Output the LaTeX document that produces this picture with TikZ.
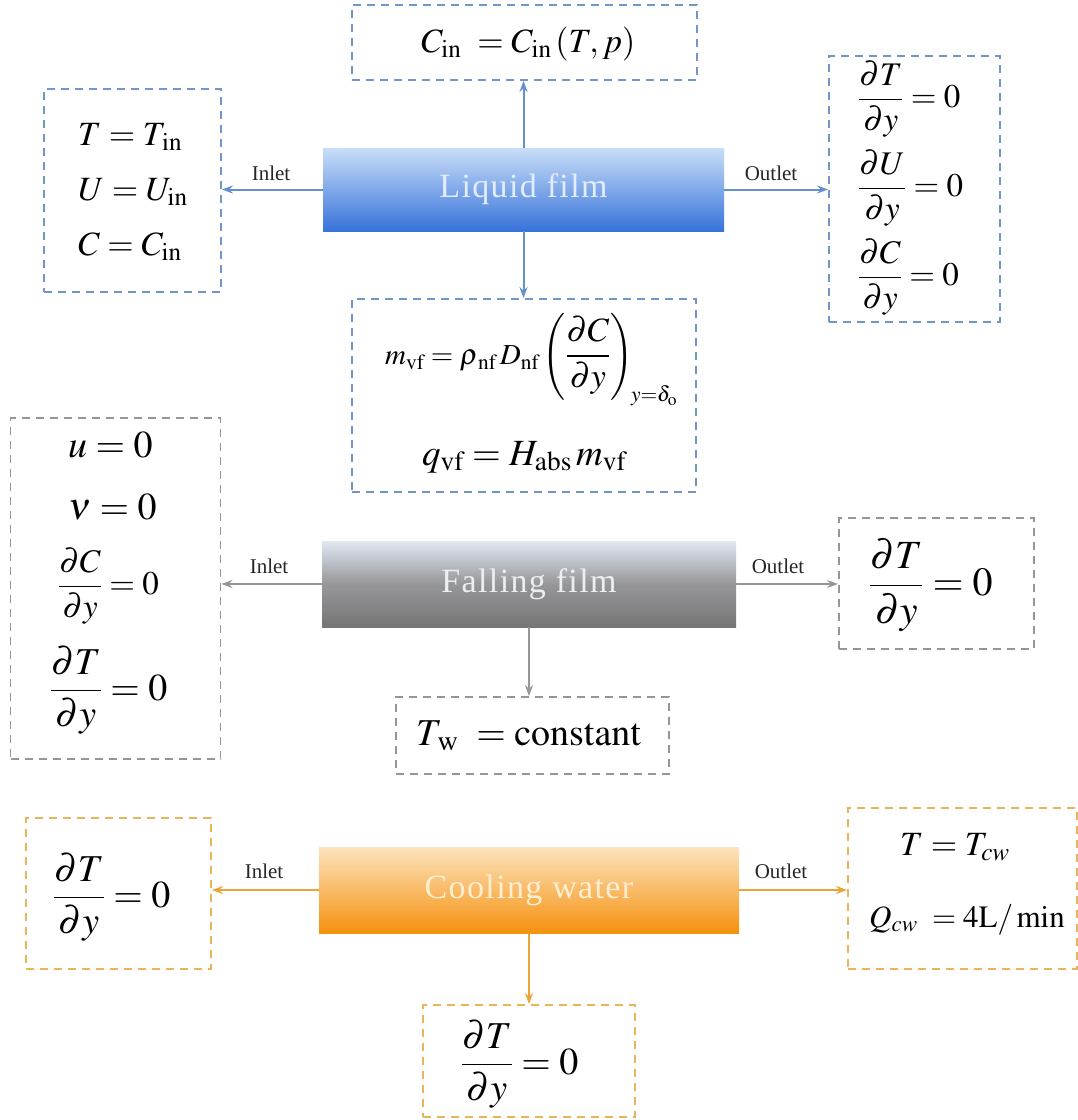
\documentclass[tikz,border=0pt]{standalone}
\usepackage{mathptmx}
\usepackage{amsmath}
\usepackage{fontspec}
\setmainfont{Liberation Serif}
\usetikzlibrary{arrows.meta}
\definecolor{bluebd}{RGB}{115,150,200}
\definecolor{bluear}{RGB}{100,145,205}
\definecolor{graybd}{RGB}{150,150,150}
\definecolor{grayar}{RGB}{150,150,150}
\definecolor{orbd}{RGB}{235,180,90}
\definecolor{orar}{RGB}{235,165,55}
\definecolor{lfTop}{RGB}{200,222,248}
\definecolor{lfBot}{RGB}{55,115,218}
\definecolor{ffTop}{RGB}{225,232,242}
\definecolor{ffMid}{RGB}{150,150,155}
\definecolor{ffBot}{RGB}{118,118,118}
\definecolor{cwTop}{RGB}{252,228,190}
\definecolor{cwBot}{RGB}{245,145,15}
\newcommand\mypd[2]{\dfrac{\partial #1}{\partial #2}}
\begin{document}
\begin{tikzpicture}[x=1pt,y=-1pt,
  bc/.style={draw, dash pattern=on 8pt off 6pt, line width=1.8pt, inner sep=0pt},
  bar/.style={inner sep=0pt, font=\fontsize{34}{40}\selectfont\addfontfeature{LetterSpace=4}},
  arr/.style={line width=2pt, -{Stealth[length=11pt,width=8pt]}},
  lbl/.style={font=\fontsize{21}{24}\selectfont, text=black!85, inner sep=0pt},
  eq/.style={font=\fontsize{34}{40}\selectfont, inner sep=0pt},
  eqm/.style={font=\fontsize{33}{38}\selectfont, inner sep=0pt},
  eqb/.style={font=\fontsize{38}{44}\selectfont, inner sep=0pt}
]
\useasboundingbox[fill=white] (0,0) rectangle (1078,1120);

% ---------------- Liquid film ----------------
\node[bar, minimum width=401pt, minimum height=83pt, top color=lfTop, bottom color=lfBot, text={rgb,255:red,225;green,236;blue,252}] (liq) at (523.5,189.5) {Liquid film};
\node[bc, draw=bluebd, minimum width=345pt, minimum height=75pt] (ltop) at (524.5,42.5) {};
\node[bc, draw=bluebd, minimum width=177pt, minimum height=203pt] (lin) at (132.5,190.5) {};
\node[bc, draw=bluebd, minimum width=171pt, minimum height=266pt] (lout) at (914.5,189) {};
\node[bc, draw=bluebd, minimum width=344pt, minimum height=193pt] (lbot) at (524,395.5) {};

\node[eq, anchor=base west] (ltopeq) at (421,52) {$C_{\mathrm{in}}\ = C_{\mathrm{in}}\,(T,p)$};
\node[eq, anchor=base west] (lin1) at (78,145) {$T = T_{\,\mathrm{in}}$};
\node[eq, anchor=base west] (lin2) at (78,200) {$U = U_{\mathrm{in}}$};
\node[eq, anchor=base west] (lin3) at (78,255) {$C = C_{\mathrm{in}}$};
\node[eqm, anchor=west] (lout1) at (858,99) {$\mypd{T}{y} = 0$};
\node[eqm, anchor=west] (lout2) at (858,188) {$\mypd{U}{y} = 0$};
\node[eqm, anchor=west] (lout3) at (858,277) {$\mypd{C}{y} = 0$};
\node[font=\fontsize{29}{34}\selectfont, inner sep=0pt, anchor=west] (lbot1) at (385,360) {$m_{\mathrm{vf}} = \rho_{\,\mathrm{nf}}\, D_{\mathrm{nf}} \left(\mbox{\fontsize{34}{40}\selectfont$\mypd{C}{y}$}\right)_{\!y=\delta_{\mathrm{o}}}$};
\node[font=\fontsize{37}{42}\selectfont, inner sep=0pt, anchor=base west] (lbot2) at (422,465) {$q_{\mathrm{vf}} = H_{\mathrm{abs}}\, m_{\mathrm{vf}}$};

\node[lbl, anchor=base] (linl) at (271,180) {Inlet};
\node[lbl, anchor=base] (loutl) at (771,180) {Outlet};

\draw[arr, bluear] (liq.north) -- (liq.north |- ltop.south);
\draw[arr, bluear] (liq.south) -- (liq.south |- lbot.north);
\draw[arr, bluear] (liq.west) -- (liq.west -| lin.east);
\draw[arr, bluear] (liq.east) -- (liq.east -| lout.west);

% ---------------- Falling film ----------------
\node[bar, minimum width=414pt, minimum height=86pt, top color=ffTop, bottom color=ffBot, middle color=ffMid, text={rgb,255:red,236;green,238;blue,242}] (fal) at (529,584) {Falling film};
\node[bc, draw=graybd, minimum width=210pt, minimum height=341pt] (fin) at (115.5,588.5) {};
\node[bc, draw=graybd, minimum width=195pt, minimum height=131pt] (fout) at (936.5,583.5) {};
\node[bc, draw=graybd, minimum width=273pt, minimum height=77pt] (fbot) at (532.5,735.5) {};

\node[eqb, anchor=base west] (fin1) at (68,457) {$u = 0$};
\node[eqb, anchor=base west] (fin2) at (68,519) {$\nu = 0$};
\node[eqm, anchor=west] (fin3) at (58,586) {$\mypd{C}{y} = 0$};
\node[eqb, anchor=west] (fin4) at (50,690) {$\mypd{T}{y} = 0$};
\node[font=\fontsize{40}{46}\selectfont, inner sep=0pt, anchor=west] (fout1) at (869,585) {$\mypd{T}{y} = 0$};
\node[eqb, anchor=base west] (fbot1) at (416,745) {$T_{\,\mathrm{w}}\ = \mathrm{constant}$};

\node[lbl, anchor=base] (finl) at (269,573) {Inlet};
\node[lbl, anchor=base] (foutl) at (778,573) {Outlet};

\draw[arr, grayar] (fal.west) -- (fal.west -| fin.east);
\draw[arr, grayar] (fal.east) -- (fal.east -| fout.west);
\draw[arr, grayar] (fal.south) -- (fal.south |- fbot.north);

% ---------------- Cooling water ----------------
\node[bar, minimum width=420pt, minimum height=86pt, top color=cwTop, bottom color=cwBot, text={rgb,255:red,255;green,238;blue,210}] (coo) at (529,890) {Cooling water};
\node[bc, draw=orbd, minimum width=185pt, minimum height=151pt] (cin) at (118.5,893.5) {};
\node[bc, draw=orbd, minimum width=229pt, minimum height=161pt] (cout) at (962.5,888.5) {};
\node[bc, draw=orbd, minimum width=212pt, minimum height=112pt] (cbot) at (529,1061) {};

\node[eqb, anchor=west] (cin1) at (53,897) {$\mypd{T}{y} = 0$};
\node[eq, anchor=base west] (cout1) at (900,855) {$T = T_{cw}$};
\node[font=\fontsize{31}{36}\selectfont, inner sep=0pt, anchor=base west] (cout2) at (869,927) {$Q_{cw}\ = 4\mathrm{L}/\min$};
\node[eqb, anchor=west] (cbot1) at (461,1064) {$\mypd{T}{y} = 0$};

\node[lbl, anchor=base] (cinl) at (264,878) {Inlet};
\node[lbl, anchor=base] (coutl) at (781,878) {Outlet};

\draw[arr, orar] (coo.west) -- (coo.west -| cin.east);
\draw[arr, orar] (coo.east) -- (coo.east -| cout.west);
\draw[arr, orar] (coo.south) -- (coo.south |- cbot.north);
\end{tikzpicture}
\end{document}
